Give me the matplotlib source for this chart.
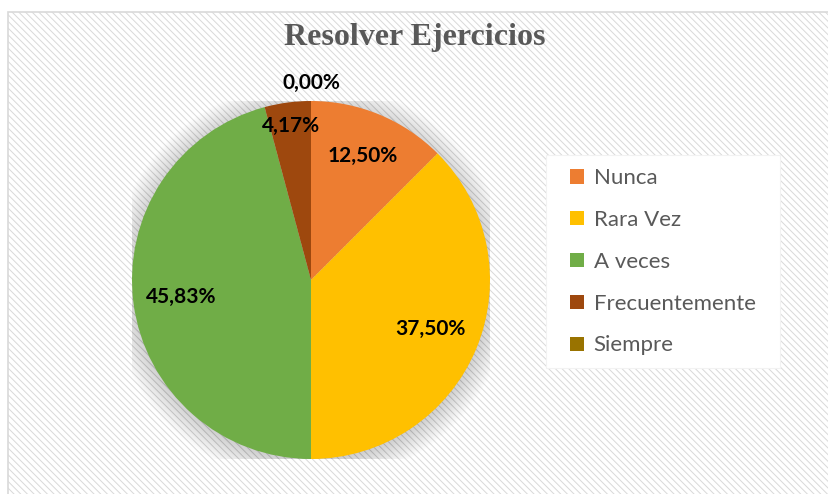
import numpy as np
import matplotlib
matplotlib.use("Agg")
import matplotlib.pyplot as plt
from matplotlib.patches import Rectangle, Circle, Patch

## Datos
categorias = ["Nunca", "Rara Vez", "A veces", "Frecuentemente", "Siempre"]
valores = [12.50, 37.50, 45.83, 4.17, 0.00]
etiquetas = ["12,50%", "37,50%", "45,83%", "4,17%", "0,00%"]
colores = ["#ED7D31", "#FFC000", "#70AD47", "#9E480E", "#997300"]
distancias = [0.75, 0.72, 0.73, 0.87, 1.10]

W, H = 829, 494
fig = plt.figure(figsize=(W/100, H/100), dpi=100)
fig.patch.set_facecolor("white")

## Fondo con rayas
plt.rcParams["hatch.linewidth"] = 0.7
plt.rcParams["hatch.color"] = "#f4f4f4"
fondo = Rectangle((8/W, -0.01), 1, 1 - 12/H + 0.01, transform=fig.transFigure,
                  facecolor="white", edgecolor="#d9d9d9", linewidth=1.2,
                  hatch="\\\\\\\\\\", zorder=-10)
fig.patches.append(fondo)

# caja blanca de la leyenda
caja = Rectangle((546/W, 1 - 368/H), (780 - 546)/W, (368 - 155)/H,
                 transform=fig.transFigure, facecolor="white",
                 edgecolor="#f2f2f2", linewidth=0.8, zorder=-5)
fig.patches.append(caja)

## Pastel
cx, cy, r = 311, 494 - 280, 179
ax = fig.add_axes([(cx - r)/W, (cy - r)/H, 2*r/W, 2*r/H], zorder=2)
ax.patch.set_visible(False)

# sombra difusa
for i in range(24):
    ax.add_patch(Circle((0, -0.015), 0.99 + 0.006*i, facecolor="#000000",
                        alpha=0.009, edgecolor="none", zorder=0))

wedges, _ = ax.pie(valores, colors=colores, startangle=90, counterclock=False,
                   radius=1, center=(0, 0), frame=True,
                   wedgeprops=dict(linewidth=0, zorder=2))
ax.set_xlim(-1, 1)
ax.set_ylim(-1, 1)
ax.set_aspect("equal")
ax.axis("off")

total = sum(valores)
inicio = 90.0
for v, et, d in zip(valores, etiquetas, distancias):
    ang = inicio - v/total*360/2
    inicio -= v/total*360
    x = d*np.cos(np.radians(ang))
    y = d*np.sin(np.radians(ang))
    ax.text(x, y, et, ha="center", va="center", fontsize=15, fontweight="bold",
            family="Lato", color="black", zorder=5, clip_on=False)

## Titulo
fig.text(415/W, 1 - 37/H, "Resolver Ejercicios", ha="center", va="center",
         fontsize=23, fontweight="bold", family="Liberation Serif", color="#595959")

## Leyenda
handles = [Patch(facecolor=c, edgecolor="none") for c in colores]
leg = fig.legend(handles, categorias, loc="upper left",
                 bbox_to_anchor=(557/W, 1 - 155/H), frameon=False,
                 prop=dict(family="Lato", size=16),
                 handlelength=0.6, handleheight=0.6, handletextpad=0.45,
                 labelspacing=0.98, borderpad=0.6, borderaxespad=0)
for t in leg.get_texts():
    t.set_color("#595959")

fig.savefig("out.png", dpi=100)
